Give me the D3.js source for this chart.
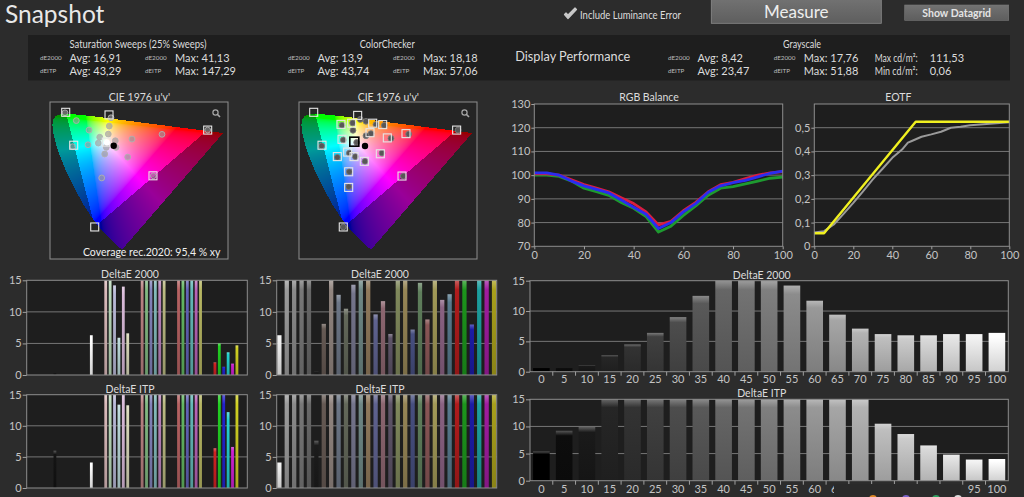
<!DOCTYPE html>
<html><head><meta charset="utf-8">
<script src="https://cdn.jsdelivr.net/npm/d3@7"></script>
<style>
html,body{margin:0;padding:0;background:#2c2c2c;overflow:hidden;}
svg{display:block;}
text{font-family:Lato,"Open Sans",sans-serif;}
</style></head><body>
<svg id="c" width="1024" height="497"></svg>
<script>
// ---------------- DATA ----------------
const satSweepStats = ["16,91", "41,13", "43,29", "147,29"];
const colorCheckerStats = ["13,9", "18,18", "43,74", "57,06"];
const grayscaleStats = ["8,42", "17,76", "23,47", "51,88"];
const luminanceStats = ["111,53", "0,06"];
const coveragePct = "95,4";

// RGB balance
const rgbX = [0,5,10,15,20,25,30,35,40,45,50,55,60,65,70,75,80,85,90,95,100];
const rgbRed   = [100.5,100.5,100,98,96,94.5,93,90.5,88,84.5,79,80.5,85,88.5,93,96,97,98.5,100,101,101.5];
const rgbGreen = [100,100,99.5,97.5,94.5,93,91.5,88.5,86,82.5,76,78.5,83,87,91.5,94.5,95.2,96.3,97.5,98.7,99.2];
const rgbBlue  = [101,101,100,97.5,95.5,94,92.5,89.5,86.5,83.5,77.5,80,84.5,88,92.8,95.5,96.8,97.8,99.3,100.8,101.7];
const rgbYTicks = [70,80,90,100,110,120,130];
const xTicks100 = [0,20,40,60,80,100];

// EOTF
const eotfTargetX = [0,5,52,100];
const eotfTarget  = [0.055,0.055,0.525,0.525];
const eotfX = [0,5,10,15,20,25,30,35,40,45,48,50,55,60,65,70,75,80,90,100];
const eotfMeasured = [0.058,0.064,0.092,0.137,0.183,0.232,0.282,0.327,0.373,0.408,0.437,0.444,0.462,0.472,0.483,0.5,0.504,0.51,0.517,0.523];
const eotfYTicks = [0,0.1,0.2,0.3,0.4,0.5];

// Grayscale
const grayLevels = [0,5,10,15,20,25,30,35,40,45,50,55,60,65,70,75,80,85,90,95,100];
const grayDE2000 = [0.6,0.6,1.0,2.7,4.5,6.4,9.0,12.5,15,15,15,14.2,11.7,9.4,7.1,6.2,6.0,6.0,6.2,6.2,6.4];
const grayITP    = [5.4,9.2,9.9,15,15,15,15,15,15,15,15,15,15,15,15,10.5,8.6,6.5,4.8,3.9,4.0];
const deTicks = [0,5,10,15];

// Saturation sweeps (groups x colours R,G,B,C,M,Y)
const sweepGroups = ["Black","White","25%","50%","75%","100%"];
const sweepNames = ["R","G","B","C","M","Y"];
const sweepDE2000 = [
  [null,null,null,null,null,0.3],
  [null,null,null,null,null,6.3],
  [15,15,14.2,5.9,14,6.6],
  [15,15,15,15,15,15],
  [15,15,15,15,15,15],
  [2.0,5.0,1.3,3.6,1.8,4.7]
];
const sweepITP = [
  [null,null,null,null,null,6.0],
  [null,null,null,null,null,4.1],
  [15,15,15,13.4,15,13.3],
  [15,15,15,15,15,15],
  [15,15,15,15,15,15],
  [6.4,15,15,12.2,6.6,15]
];

// ColorChecker
const ccNames = ["White","Gray80","Gray65","Gray50","Gray35","Black","DarkSkin","LightSkin","BlueSky","Foliage","BlueFlower","BluishGreen","Orange","PurplishBlue","ModerateRed","Purple","YellowGreen","OrangeYellow","Blue","Green","Red","Yellow","Magenta","Cyan","R100","G100","B100","C100","M100","Y100"];
const ccDE2000 = [6.3,15,15,15,15,0.5,8.1,15,12.7,10.5,14.3,15,15,9.6,11.7,6.5,15,15,7.2,14.6,8.8,15,11.9,12.8,15,15,8.0,15,15,15];
const ccITP    = [4.1,15,15,15,15,7.6,15,15,15,15,15,15,15,15,15,15,15,15,15,15,15,15,15,15,15,15,15,15,15,15];

// CIE u'v' points
const sweepTargets = [[0.0499,0.594],[0.2077,0.583],[0.5672,0.519],[0.0791,0.455],[0.3679,0.326],[0.1556,0.110],[0.1978,0.4683]];
const sweepMeasured = [[0.0474,0.592],[0.0885,0.559],[0.1348,0.519],[0.2149,0.571],[0.2087,0.536],[0.2051,0.502],[0.1738,0.489],[0.1687,0.464],[0.1311,0.457],[0.0754,0.449],[0.1978,0.446],[0.192,0.418],[0.2306,0.474],[0.2332,0.446],[0.2914,0.481],[0.4007,0.501],[0.2758,0.405],[0.5672,0.519],[0.369,0.326],[0.1811,0.317]];
const sweepWhite = [[0.2004,0.467]];
const sweepBlack = [[0.2248,0.453]];
const ccTargets = [[0.0462,0.594],[0.2064,0.581],[0.567,0.519],[0.0765,0.455],[0.368,0.325],[0.154,0.110],[0.1457,0.543],[0.1846,0.548],[0.2612,0.548],[0.2976,0.542],[0.1494,0.480],[0.3145,0.486],[0.3825,0.504],[0.289,0.419],[0.1323,0.407],[0.17,0.426],[0.1931,0.407],[0.2307,0.387],[0.1737,0.343],[0.1737,0.277],[0.2514,0.508]];
const ccTargetBlack = [[0.1942,0.470]];
const ccMeasured = [[0.1494,0.539],[0.1882,0.549],[0.2161,0.564],[0.2368,0.556],[0.1894,0.518],[0.2732,0.542],[0.3035,0.539],[0.255,0.504],[0.2368,0.495],[0.1542,0.477],[0.2028,0.467],[0.3279,0.484],[0.3922,0.502],[0.572,0.519],[0.2951,0.422],[0.3727,0.325],[0.0753,0.452],[0.1323,0.404],[0.1761,0.422],[0.1979,0.407],[0.2332,0.387],[0.1761,0.343],[0.1737,0.280],[0.154,0.110]];
const ccBlack = [[0.2332,0.452]];

// CIE 1931 spectral locus (x,y), 380-700 nm
const locusXY = [[0.1741,0.0050],[0.1738,0.0049],[0.1733,0.0048],[0.1726,0.0048],[0.1714,0.0051],[0.1689,0.0069],[0.1644,0.0109],[0.1566,0.0177],[0.1440,0.0297],[0.1241,0.0578],[0.1096,0.0868],[0.0913,0.1327],[0.0687,0.2007],[0.0454,0.2950],[0.0235,0.4127],[0.0082,0.5384],[0.0039,0.6548],[0.0139,0.7502],[0.0389,0.8120],[0.0743,0.8338],[0.1142,0.8262],[0.1547,0.8059],[0.1929,0.7816],[0.2296,0.7543],[0.2658,0.7243],[0.3016,0.6923],[0.3373,0.6589],[0.3731,0.6245],[0.4441,0.5547],[0.5125,0.4866],[0.5752,0.4242],[0.6270,0.3725],[0.6658,0.3340],[0.6915,0.3083],[0.7079,0.2920],[0.7190,0.2809],[0.7260,0.2740],[0.7334,0.2666],[0.7347,0.2653]];

// ---------------- STYLE ----------------
const TXT = "#dcdcdc", TICK = "#c4c4c4", PLOTBG = "#1e1e1e", BORDER = "#8e8e8e", GRID = "#767676";
const sweepHues = ["#ff2020","#20ff20","#2020ff","#20ffff","#ff20ff","#ffff20"];
const ccColors = ["#f2f2f2","#9c9c9c","#8a8a8a","#787878","#686868","#1c1c1c","#665a54","#928680","#6c7686","#63685a","#75758c","#6f8886","#917a5c","#5f6390","#8c6670","#5e5468","#80895c","#978656","#474f80","#5f7f5c","#8a5656","#a29a58","#8a6282","#577a8e","#b01c1c","#1c961c","#1c1ca6","#1ca0a0","#a01ca0","#a8a01c"];

const svg = d3.select("#c");
const defs = svg.append("defs");
let gid = 0;
function grad(color){
  const c = d3.color(color);
  const id = "bg" + (gid++);
  const lg = defs.append("linearGradient").attr("id", id).attr("x1",0).attr("y1",0).attr("x2",0).attr("y2",1);
  lg.append("stop").attr("offset","0%").attr("stop-color", d3.interpolateRgb(c,"#ffffff")(0.3));
  lg.append("stop").attr("offset","10%").attr("stop-color", c.formatHex());
  lg.append("stop").attr("offset","100%").attr("stop-color", d3.interpolateRgb(c,"#000000")(0.18));
  return `url(#${id})`;
}

svg.append("rect").attr("width",1024).attr("height",497).attr("fill","#2c2c2c");

// ---------------- HEADER ----------------
svg.append("text").attr("x",5).attr("y",22.5).attr("font-family","'Open Sans'").attr("font-size",24.5).attr("fill","#e8e8e8").text("Snapshot");

// checkbox tick
svg.append("path").attr("d","M564.5,14.5 L568,18.5 L576.5,9.5 L575,8 L568,15 L566,13 Z").attr("fill","#c8c8c8").attr("stroke","#c8c8c8").attr("stroke-width",1.2).attr("stroke-linejoin","round");
svg.append("text").attr("x",580).attr("y",14.7).attr("dominant-baseline","central").attr("font-size",10.5).attr("fill",TXT).attr("textLength",101).attr("lengthAdjust","spacingAndGlyphs").text("Include Luminance Error");

const mg = defs.append("linearGradient").attr("id","btn").attr("x1",0).attr("y1",0).attr("x2",0).attr("y2",1);
mg.append("stop").attr("offset","0%").attr("stop-color","#727272");
mg.append("stop").attr("offset","100%").attr("stop-color","#5e5e5e");
svg.append("rect").attr("x",711.3).attr("y",-1).attr("width",170).attr("height",24.3).attr("fill","url(#btn)").attr("stroke","#8a8a8a").attr("stroke-width",0.8);
svg.append("text").attr("x",796.3).attr("y",11.5).attr("text-anchor","middle").attr("dominant-baseline","central").attr("font-size",17).attr("fill","#eeeeee").text("Measure");
svg.append("rect").attr("x",904.7).attr("y",5).attr("width",104).attr("height",15.3).attr("fill","url(#btn)").attr("stroke","#7a7a7a").attr("stroke-width",0.6);
svg.append("text").attr("x",956.7).attr("y",12.8).attr("text-anchor","middle").attr("dominant-baseline","central").attr("font-size",10.5).attr("font-weight",700).attr("fill","#e4e4e4").text("Show Datagrid");

// info panel
svg.append("rect").attr("x",28).attr("y",35).attr("width",982).attr("height",45.5).attr("fill","#1e1e1e");
function statBlock(titleX, title, titleW, x1, x2, vals){
  svg.append("text").attr("x",titleX).attr("y",44.3).attr("text-anchor","middle").attr("dominant-baseline","central").attr("font-size",10.5).attr("fill",TXT)
    .attr("textLength",titleW).attr("lengthAdjust","spacingAndGlyphs").text(title);
  const rows = [["dE2000",57.3,vals[0],vals[1]],["dEITP",70.3,vals[2],vals[3]]];
  rows.forEach(r=>{
    svg.append("text").attr("x",x1).attr("y",r[1]).attr("dominant-baseline","central").attr("font-size",6.3).attr("fill","#bdbdbd").text(r[0]);
    svg.append("text").attr("x",x1+29.5).attr("y",r[1]).attr("dominant-baseline","central").attr("font-size",11).attr("fill",TXT).text("Avg: "+r[2]);
    svg.append("text").attr("x",x2).attr("y",r[1]).attr("dominant-baseline","central").attr("font-size",6.3).attr("fill","#bdbdbd").text(r[0]);
    svg.append("text").attr("x",x2+30).attr("y",r[1]).attr("dominant-baseline","central").attr("font-size",11).attr("fill",TXT).text("Max: "+r[3]);
  });
}
statBlock(138, "Saturation Sweeps (25% Sweeps)", 137, 40, 145, satSweepStats);
statBlock(387.3, "ColorChecker", 55, 288, 393, colorCheckerStats);
statBlock(802, "Grayscale", 38, 668, 773.7, grayscaleStats);
svg.append("text").attr("x",515.3).attr("y",55.7).attr("dominant-baseline","central").attr("font-size",13.5).attr("fill",TXT)
  .attr("textLength",115).attr("lengthAdjust","spacingAndGlyphs").text("Display Performance");
[["Max cd/m²:",57.3,luminanceStats[0]],["Min cd/m²:",70.3,luminanceStats[1]]].forEach(r=>{
  svg.append("text").attr("x",874.7).attr("y",r[1]).attr("dominant-baseline","central").attr("font-size",11).attr("fill",TXT)
    .attr("textLength",43).attr("lengthAdjust","spacingAndGlyphs").text(r[0]);
  svg.append("text").attr("x",929.7).attr("y",r[1]).attr("dominant-baseline","central").attr("font-size",11).attr("fill",TXT).text(r[2]);
});

// ---------------- CIE ----------------
const boxW = 178, boxH = 157;
const uS = d3.scaleLinear().domain([-0.0073, 0.6412]).range([0, boxW]);
const vS = d3.scaleLinear().domain([-0.0252, 0.6375]).range([boxH, 0]);
function xy2uv([x,y]){ const d = -2*x + 12*y + 3; return [4*x/d, 9*y/d]; }
const locusUV = locusXY.map(xy2uv);
function cieImage(tri){
  const cv = document.createElement("canvas"); cv.width = boxW; cv.height = boxH;
  const ctx = cv.getContext("2d"); const img = ctx.createImageData(boxW, boxH);
  const gam = v => v <= 0.0031308 ? 12.92*v : 1.055*Math.pow(v,1/2.4) - 0.055;
  for (let py=0; py<boxH; py++) for (let px=0; px<boxW; px++){
    const u = uS.invert(px+0.5), v = vS.invert(py+0.5);
    if (!d3.polygonContains(locusUV, [u,v])) continue;
    const d = 6*u - 16*v + 12; const x = 9*u/d, y = 4*v/d;
    const X = x/y, Y = 1, Z = (1-x-y)/y;
    let r = 3.2406*X - 1.5372*Y - 0.4986*Z;
    let g = -0.9689*X + 1.8758*Y + 0.0415*Z;
    let b = 0.0557*X - 0.2040*Y + 1.0570*Z;
    r = Math.max(r,0); g = Math.max(g,0); b = Math.max(b,0);
    const m = Math.max(r,g,b) || 1; r/=m; g/=m; b/=m;
    const f = d3.polygonContains(tri, [u,v]) ? 1 : 0.6;
    const i = (py*boxW + px)*4;
    img.data[i] = gam(r)*255*f; img.data[i+1] = gam(g)*255*f; img.data[i+2] = gam(b)*255*f; img.data[i+3] = 255;
  }
  ctx.putImageData(img,0,0);
  return cv.toDataURL();
}
const cieURL = cieImage([sweepTargets[2], sweepTargets[0], sweepTargets[5]]);

function cieChart(x0, titleX, targets, measured, extra){
  svg.append("text").attr("x",titleX).attr("y",96.7).attr("text-anchor","middle").attr("dominant-baseline","central").attr("font-size",10.5).attr("fill",TXT).text("CIE 1976 u'v'");
  const g = svg.append("g").attr("transform",`translate(${x0},102)`);
  g.append("rect").attr("width",boxW).attr("height",boxH).attr("fill","#252525");
  g.append("image").attr("href",cieURL).attr("width",boxW).attr("height",boxH);
  g.append("rect").attr("width",boxW).attr("height",boxH).attr("fill","none").attr("stroke",BORDER).attr("stroke-width",1);
  // magnifier
  g.append("circle").attr("cx",165.5).attr("cy",10.5).attr("r",2.6).attr("fill","none").attr("stroke","#a8a8a8").attr("stroke-width",1.2);
  g.append("line").attr("x1",167.5).attr("y1",12.5).attr("x2",170).attr("y2",15).attr("stroke","#a8a8a8").attr("stroke-width",1.6);
  g.selectAll("circle.m").data(measured).join("circle").attr("class","m")
    .attr("cx",d=>uS(d[0])).attr("cy",d=>vS(d[1])).attr("r",2.9)
    .attr("fill",extra.mFill).attr("stroke",extra.mStroke).attr("stroke-width",0.9);
  g.selectAll("rect.t").data(targets).join("rect").attr("class","t")
    .attr("x",d=>uS(d[0])-4).attr("y",d=>vS(d[1])-4).attr("width",8).attr("height",8)
    .attr("fill","none").attr("stroke","#e6e6e6").attr("stroke-width",1.1);
  return g;
}
const c1 = cieChart(50, 139.5, sweepTargets, sweepMeasured, {mFill:"rgba(150,150,150,0.6)", mStroke:"#b0b0b0"});
c1.selectAll("circle.w").data(sweepWhite).join("circle").attr("cx",d=>uS(d[0])).attr("cy",d=>vS(d[1])).attr("r",3).attr("fill","#ffffff");
c1.selectAll("circle.k").data(sweepBlack).join("circle").attr("cx",d=>uS(d[0])).attr("cy",d=>vS(d[1])).attr("r",3.2).attr("fill","#000000");
c1.append("text").attr("x",101.7).attr("y",149.5).attr("text-anchor","middle").attr("dominant-baseline","central").attr("font-size",10.5).attr("fill","#f0f0f0").text(`Coverage rec.2020:  ${coveragePct} % xy`);

const c2 = cieChart(299, 388.3, ccTargets, ccMeasured, {mFill:"#575757", mStroke:"#7a7a7a"});
c2.selectAll("rect.kb").data(ccTargetBlack).join("rect").attr("x",d=>uS(d[0])-4.5).attr("y",d=>vS(d[1])-4.5).attr("width",9).attr("height",9).attr("fill","none").attr("stroke","#000").attr("stroke-width",1.6);
c2.selectAll("circle.k").data(ccBlack).join("circle").attr("cx",d=>uS(d[0])).attr("cy",d=>vS(d[1])).attr("r",3.2).attr("fill","#000000");

// ---------------- helpers ----------------
function styleAxis(a){
  a.select(".domain").remove();
  a.selectAll("line").attr("stroke","#a0a0a0");
  a.selectAll("text").attr("fill",TICK).attr("font-size",11).attr("font-family","Lato,'Open Sans',sans-serif");
}
function title(x,y,t){
  svg.append("text").attr("x",x).attr("y",y).attr("text-anchor","middle").attr("dominant-baseline","central").attr("font-size",10.5).attr("fill",TXT).text(t);
}

// ---------------- RGB BALANCE ----------------
{
  const w = 248.4, h = 142.3;
  const g = svg.append("g").attr("transform","translate(534.3,104)");
  const x = d3.scaleLinear().domain([0,100]).range([0,w]);
  const y = d3.scaleLinear().domain([70,130]).range([h,0]);
  g.append("rect").attr("width",w).attr("height",h).attr("fill",PLOTBG);
  g.selectAll("line.gr").data(rgbYTicks.slice(1,-1)).join("line").attr("x1",0).attr("x2",w).attr("y1",d=>y(d)).attr("y2",d=>y(d)).attr("stroke",GRID).attr("stroke-width",1);
  const series = [[rgbGreen,"#1e9a30"],[rgbRed,"#d81e40"],[rgbBlue,"#2a2cf0"]];
  series.forEach(([vals,col])=>{
    g.append("path").datum(vals).attr("fill","none").attr("stroke",col).attr("stroke-width",2.8).attr("stroke-linejoin","round")
      .attr("d", d3.line().x((d,i)=>x(rgbX[i])).y(d=>y(d)));
  });
  g.append("rect").attr("width",w).attr("height",h).attr("fill","none").attr("stroke",BORDER);
  styleAxis(g.append("g").call(d3.axisLeft(y).tickValues(rgbYTicks).tickSize(3).tickPadding(1)));
  styleAxis(g.append("g").attr("transform",`translate(0,${h})`).call(d3.axisBottom(x).tickValues(xTicks100).tickSize(3).tickPadding(2)));
  title(649, 97.3, "RGB Balance");
}

// ---------------- EOTF ----------------
{
  const w = 195, h = 142.3;
  const g = svg.append("g").attr("transform","translate(814.3,104)");
  const x = d3.scaleLinear().domain([0,100]).range([0,w]);
  const y = d3.scaleLinear().domain([0,0.6]).range([h,0]);
  g.append("rect").attr("width",w).attr("height",h).attr("fill",PLOTBG);
  g.selectAll("line.gr").data(eotfYTicks.slice(1)).join("line").attr("x1",0).attr("x2",w).attr("y1",d=>y(d)).attr("y2",d=>y(d)).attr("stroke",GRID).attr("stroke-width",1);
  g.append("path").datum(eotfMeasured).attr("fill","none").attr("stroke","#9a9a9a").attr("stroke-width",2).attr("stroke-linejoin","round")
    .attr("d", d3.line().x((d,i)=>x(eotfX[i])).y(d=>y(d)));
  g.append("path").datum(eotfTarget).attr("fill","none").attr("stroke","#f0f020").attr("stroke-width",2.4).attr("stroke-linejoin","round")
    .attr("d", d3.line().x((d,i)=>x(eotfTargetX[i])).y(d=>y(d)));
  g.append("rect").attr("width",w).attr("height",h).attr("fill","none").attr("stroke",BORDER);
  styleAxis(g.append("g").call(d3.axisLeft(y).tickValues(eotfYTicks).tickSize(3).tickPadding(1).tickFormat(d=>d===0?"0":d.toFixed(1).replace(".",","))));
  styleAxis(g.append("g").attr("transform",`translate(0,${h})`).call(d3.axisBottom(x).tickValues(xTicks100).tickSize(3).tickPadding(2)));
  title(898.3, 97.3, "EOTF");
}

// ---------------- BAR CHART FRAME ----------------
function frame(x0, y0, w, h){
  const g = svg.append("g").attr("transform",`translate(${x0},${y0})`);
  const y = d3.scaleLinear().domain([0,15]).range([h,0]);
  g.append("rect").attr("width",w).attr("height",h).attr("fill",PLOTBG);
  g.selectAll("line.gr").data(deTicks.slice(1,-1)).join("line").attr("x1",0).attr("x2",w).attr("y1",d=>y(d)).attr("y2",d=>y(d)).attr("stroke",GRID).attr("stroke-width",1);
  return {g, y};
}
function finish(f, w, h){
  f.g.append("rect").attr("width",w).attr("height",h).attr("fill","none").attr("stroke",BORDER);
  styleAxis(f.g.append("g").call(d3.axisLeft(f.y).tickValues(deTicks).tickSize(4).tickPadding(1)));
}

// Saturation sweeps
const sweepBase = [null, null, ["#d4d4d4",0.14], ["#a4a4a4",0.25], ["#8c8c8c",0.38], ["#2a2a2a",0.78]];
function sweepColor(gi, ci){
  if (gi === 0) return "#141414";
  if (gi === 1) return "#ffffff";
  return d3.interpolateRgb(sweepBase[gi][0], sweepHues[ci])(sweepBase[gi][1]);
}
function sweepChart(y0, h, values, titleY, titleText){
  const w = 220.6;
  const f = frame(26.7, y0, w, h);
  const outer = d3.scaleBand().domain(sweepGroups).range([0,w]).paddingInner(0.275).paddingOuter(0.1676).align(0.33);
  const inner = d3.scaleBand().domain(sweepNames).range([0,outer.bandwidth()]).paddingInner(0.36).paddingOuter(0.18);
  const flat = [];
  values.forEach((arr,gi)=>arr.forEach((v,ci)=>{ if (v!==null) flat.push({gi,ci,v}); }));
  f.g.selectAll("rect.bar").data(flat).join("rect").attr("class","bar")
    .attr("x",d=>outer(sweepGroups[d.gi]) + inner(sweepNames[d.ci]))
    .attr("width",inner.bandwidth())
    .attr("y",d=>f.y(d.v)).attr("height",d=>h - f.y(d.v))
    .attr("fill",d=>grad(sweepColor(d.gi,d.ci)));
  finish(f, w, h);
  title(130, titleY, titleText);
}
sweepChart(280.3, 94.7, sweepDE2000, 274, "DeltaE 2000");
sweepChart(394.7, 93.3, sweepITP, 388.5, "DeltaE ITP");

// ColorChecker
function ccChart(y0, h, values, titleY, titleText){
  const w = 220;
  const f = frame(276.7, y0, w, h);
  const x = d3.scaleBand().domain(ccNames).range([0,w]).paddingInner(0.42).paddingOuter(0.07);
  f.g.selectAll("rect.bar").data(values).join("rect").attr("class","bar")
    .attr("x",(d,i)=>x(ccNames[i])).attr("width",x.bandwidth())
    .attr("y",d=>f.y(d)).attr("height",d=>h - f.y(d))
    .attr("fill",(d,i)=>grad(ccColors[i]));
  finish(f, w, h);
  title(380, titleY, titleText);
}
ccChart(280.3, 94.7, ccDE2000, 274, "DeltaE 2000");
ccChart(394.7, 93.3, ccITP, 388.5, "DeltaE ITP");

// Grayscale
function grayChart(y0, h, values, titleY, titleText, labelY){
  const w = 478.3;
  const f = frame(530, y0, w, h);
  const x = d3.scaleBand().domain(grayLevels).range([0,w]).paddingInner(0.27).paddingOuter(0.135);
  f.g.selectAll("rect.bar").data(values).join("rect").attr("class","bar")
    .attr("x",(d,i)=>x(grayLevels[i])).attr("width",x.bandwidth())
    .attr("y",d=>f.y(d)).attr("height",d=>h - f.y(d))
    .attr("fill",(d,i)=>grad(d3.rgb(grayLevels[i]*2.55, grayLevels[i]*2.55, grayLevels[i]*2.55)));
  finish(f, w, h);
  const step = x.step();
  f.g.selectAll("line.bt").data(grayLevels.slice(1)).join("line")
    .attr("x1",d=>x(d) - (step - x.bandwidth())/2).attr("x2",d=>x(d) - (step - x.bandwidth())/2)
    .attr("y1",h).attr("y2",h+4).attr("stroke","#a0a0a0");
  f.g.selectAll("text.xl").data(grayLevels).join("text")
    .attr("x",d=>x(d)+x.bandwidth()/2).attr("y",labelY - y0).attr("text-anchor","middle").attr("dominant-baseline","central")
    .attr("font-size",11).attr("fill",TICK).text(d=>d);
  title(761.7, titleY, titleText);
}
grayChart(280.7, 91, grayDE2000, 275, "DeltaE 2000", 379);
grayChart(399.3, 81.4, grayITP, 392.7, "DeltaE ITP", 488.3);

// overlay (legend popup partially visible at bottom)
svg.append("rect").attr("x",834).attr("y",484).attr("width",127).attr("height",14).attr("fill","#2a2a2a");
[[873,"#e08a28"],[906,"#7a62c8"],[936,"#2fa060"],[958,"#dcdcdc"]].forEach(([cx,col])=>{
  svg.append("circle").attr("cx",cx).attr("cy",499).attr("r",4).attr("fill",col);
});
</script></body></html>
